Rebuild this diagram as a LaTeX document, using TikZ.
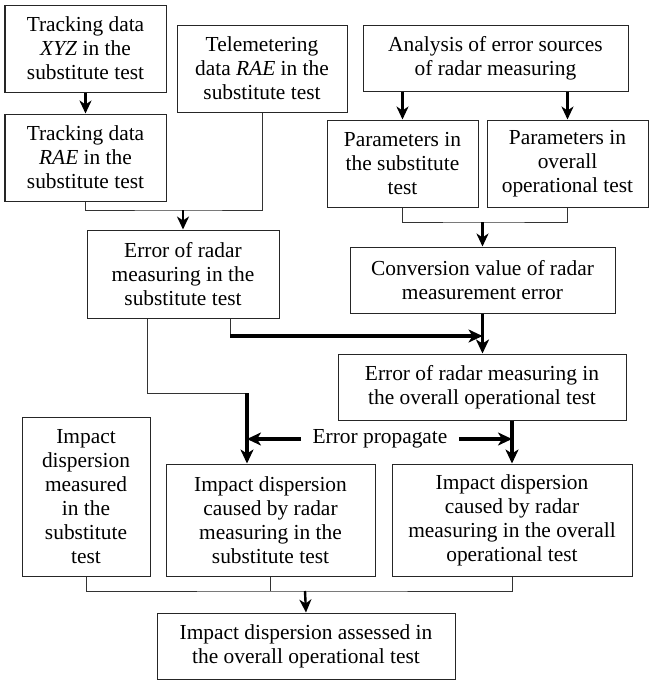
\documentclass[tikz,border=0pt]{standalone}
\usepackage{fontspec}
\setmainfont{Liberation Serif}
\usetikzlibrary{arrows.meta}
\tikzset{
  blk/.style={draw=black!85, line width=0.5pt, align=center, inner sep=0pt,
    font=\fontsize{10.7}{12}\selectfont},
  link/.style={draw=black!80, line width=0.5pt},
  arr/.style={line width=1.2pt, -{Stealth[length=6.5pt,width=6pt,inset=2pt]}},
  bigarr/.style={line width=1.6pt, -{Stealth[length=7pt,width=6.5pt,inset=2pt]}}
}

\begin{document}
\begin{tikzpicture}[x=0.5pt, y=-0.5pt]
	\useasboundingbox (0,0) rectangle (650,682);
	% top row
	\node[blk, minimum width=80.5pt, minimum height=43.5pt] (xyz) at (85.5,48.5) {Tracking data\\\textit{XYZ} in the\\substitute test};
	\node[blk, minimum width=80.5pt, minimum height=43.5pt] (rae) at (85.5,157.5) {Tracking data\\\textit{RAE} in the\\substitute test};
	\node[blk, minimum width=85pt, minimum height=43.5pt] (tele) at (262,68.5) {Telemetering\\data \textit{RAE} in the\\substitute test};
	\node[blk, minimum width=132.5pt, minimum height=33pt] (anal) at (495.5,58) {Analysis of error sources\\of radar measuring};
	\node[blk, minimum width=75.5pt, minimum height=43.5pt] (parsub) at (402.5,163.5) {Parameters in\\the substitute\\test};
	\node[blk, minimum width=80.5pt, minimum height=43.5pt] (parall) at (567.5,163.5) {Parameters in\\overall\\operational test};
	% middle
	\node[blk, minimum width=96pt, minimum height=44pt] (errsub) at (183,274) {Error of radar\\measuring in the\\substitute test};
	\node[blk, minimum width=132.5pt, minimum height=33pt] (conv) at (482.5,280) {Conversion value of radar\\measurement error};
	\node[blk, minimum width=144pt, minimum height=33pt] (errall) at (482,387) {Error of radar measuring in\\the overall operational test};
	% bottom
	\node[blk, minimum width=64pt, minimum height=79.5pt] (impmeas) at (86,496.5) {Impact\\dispersion\\measured\\in the\\substitute\\test};
	\node[blk, minimum width=104.5pt, minimum height=56pt] (impsub) at (270.5,520) {Impact dispersion\\caused by radar\\measuring in the\\substitute test};
	\node[blk, minimum width=120pt, minimum height=56pt] (impall) at (512,520) {Impact dispersion\\caused by radar\\measuring in the overall\\operational test};
	\node[blk, minimum width=149pt, minimum height=33pt] (assess) at (306,646) {Impact dispersion assessed in\\the overall operational test};
	\node[font=\fontsize{10.7}{12}\selectfont, inner xsep=5.5pt] (prop) at (380,439) {Error propagate};

	\coordinate (j1) at (183,210);
	\coordinate (j2) at (482.5,222);
	\coordinate (j3) at (230,336);
	\coordinate (j4) at (147,393);
	\coordinate (j5) at (247,393);
	\coordinate (j6) at (305,591);

	\draw[arr] (xyz.south) -- (rae.north);
	\draw[link] (rae.south) |- (j1) -| (tele.south);
	\draw[arr] (j1) -- (errsub.north);
	\draw[arr] (anal.south -| parsub.north) -- (parsub.north);
	\draw[arr] (anal.south -| parall.north) -- (parall.north);
	\draw[link] (parsub.south) |- (j2) -| (parall.south);
	\draw[arr] (j2) -- (conv.north);
	\draw[bigarr] (conv.south) -- (conv.south |- errall.north);
	\draw[link] (j3 |- errsub.south) -- (j3);
	\draw[bigarr] (j3) -- (j3 -| conv.south);
	\draw[link] (j4 |- errsub.south) |- (j5);
	\draw[bigarr] (j5) -- (j5 |- impsub.north);
	\draw[bigarr] (impall.north |- errall.south) -- (impall.north);
	\draw[bigarr] (prop.west) -- (prop.west -| j5);
	\draw[bigarr] (prop.east) -- (prop.east -| impall.north);
	\draw[link] (impmeas.south) |- (j6) -| (impall.south);
	\draw[link] (impsub.south) -- (impsub.south |- j6);
	\draw[arr] (j6) -- (assess.north);
\end{tikzpicture}
\end{document}
